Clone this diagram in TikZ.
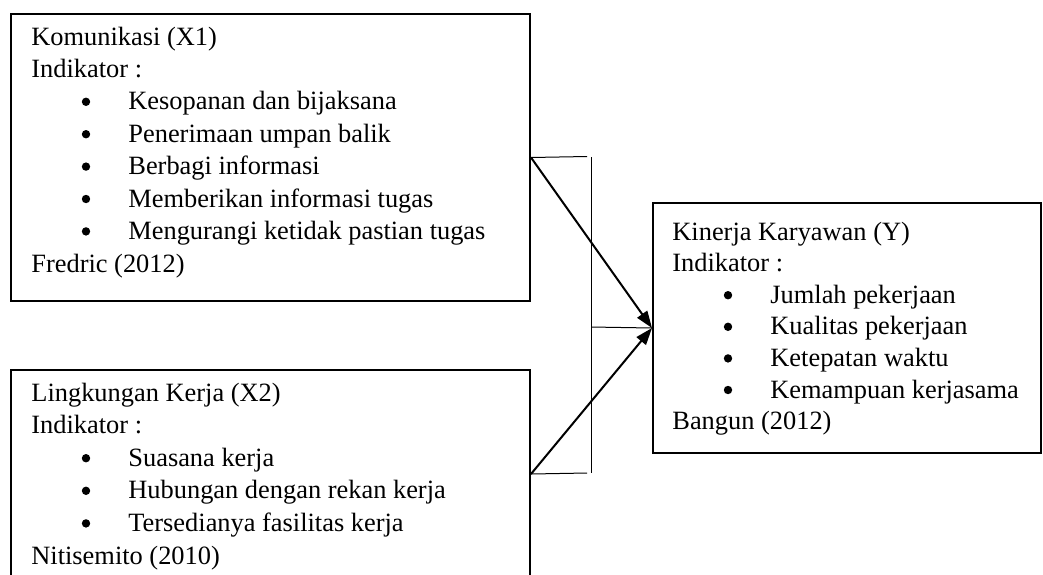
\documentclass[tikz,border=0pt]{standalone}
\usepackage{fontspec}
\setmainfont{Liberation Serif}
\usetikzlibrary{arrows.meta}
\begin{document}
\begin{tikzpicture}[x=0.5pt,y=-0.5pt,
  box/.style={draw, line width=1pt, rectangle, inner sep=0pt, anchor=north west},
  txt/.style={anchor=base west, inner sep=0pt, font=\fontsize{13.2}{16}\selectfont},
  bul/.style={circle, fill, inner sep=0pt, minimum size=4.2pt},
  thinln/.style={line width=0.5pt},
  arr/.style={line width=1pt, -{Triangle[length=8.5pt,width=6pt]}}]
\useasboundingbox (0,0) rectangle (1043,574);
% boxes
\node[box, minimum width=259.5pt, minimum height=143.5pt] (b1) at (10,13) {};
\node[box, minimum width=259.5pt, minimum height=104pt] (b2) at (10,369) {};
\node[box, minimum width=194pt, minimum height=125pt] (b3) at (652,202) {};
% box 1 text
\node[txt] (k0) at (31,45) {Komunikasi (X1)};
\node[txt] (k1) at (31,77.4) {Indikator :};
\foreach \t [count=\i] in {Kesopanan dan bijaksana, Penerimaan umpan balik, Berbagi informasi, Memberikan informasi tugas, Mengurangi ketidak pastian tugas}{
  \node[bul] (kb\i) at (86,69.4+32.4*\i) {};
  \node[txt] (kt\i) at (128,77.4+32.4*\i) {\t};
}
\node[txt] (k7) at (31,272) {Fredric (2012)};
% box 2 text
\node[txt] (l0) at (31,401) {Lingkungan Kerja (X2)};
\node[txt] (l1) at (31,433.6) {Indikator :};
\foreach \t [count=\i] in {Suasana kerja, Hubungan dengan rekan kerja, Tersedianya fasilitas kerja}{
  \node[bul] (lb\i) at (86,425.6+32.6*\i) {};
  \node[txt] (lt\i) at (128,433.6+32.6*\i) {\t};
}
\node[txt] (l5) at (31,564) {Nitisemito (2010)};
% box 3 text
\node[txt] (y0) at (672,240) {Kinerja Karyawan (Y)};
\node[txt] (y1) at (672,271.6) {Indikator :};
\foreach \t [count=\i] in {Jumlah pekerjaan, Kualitas pekerjaan, Ketepatan waktu, Kemampuan kerjasama}{
  \node[bul] (yb\i) at (728,263.6+31.6*\i) {};
  \node[txt] (yt\i) at (770,271.6+31.6*\i) {\t};
}
\node[txt] (y6) at (672,429.6) {Bangun (2012)};
% bracket
\coordinate (bt) at (587,156.5);
\coordinate (bb) at (587,473);
\coordinate (vt) at (591,157);
\coordinate (vb) at (591,473);
\coordinate (vm) at (591,327);
\draw[thinln] (b1.east) -- (bt);
\draw[thinln] (b2.east) -- (bb);
\draw[thinln] (vt) -- (vb);
\draw[thinln] (vm) -- (b3.west);
% arrows
\draw[arr] (b1.east) -- (b3.west);
\draw[arr] (b2.east) -- (b3.west);
\end{tikzpicture}
\end{document}
